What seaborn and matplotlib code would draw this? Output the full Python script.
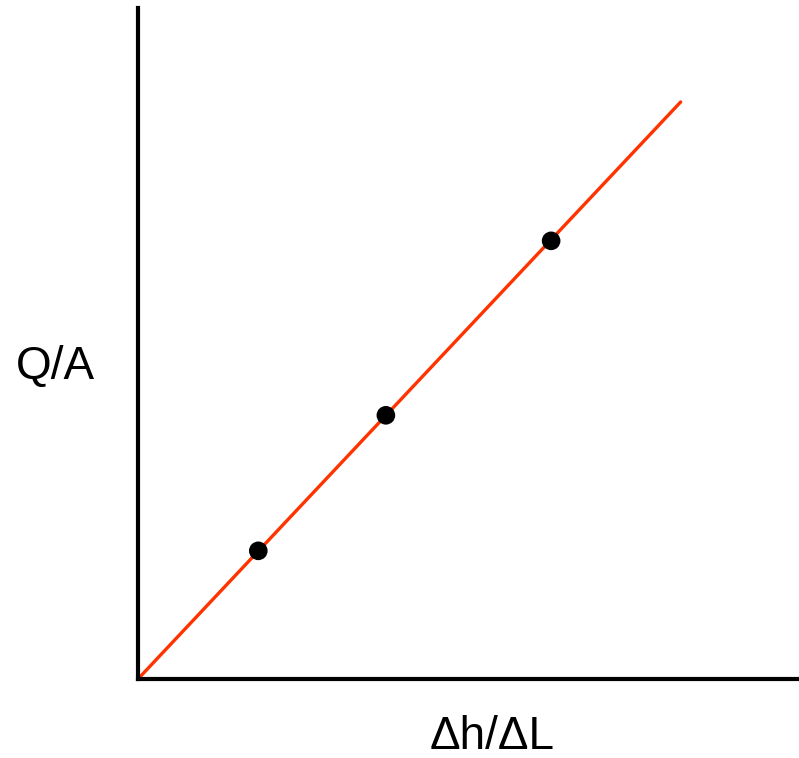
import matplotlib
matplotlib.use("Agg")
import matplotlib.pyplot as plt
import seaborn as sns
import pandas as pd

# measured points (gradient vs. specific discharge)
gradient = [1.82, 3.75, 6.25]
discharge = [1.91, 3.93, 6.53]

# fitted line through the origin
fit_x = [0.0, 8.21]
fit_y = [0.0, 8.60]

sns.set_style("white")
plt.rcParams['font.family'] = ['Liberation Sans', 'DejaVu Sans']

fig = plt.figure(figsize=(7.99, 7.58), dpi=100)
ax = fig.add_axes([138 / 799, 79 / 758, 661 / 799, 671 / 758])

df_pts = pd.DataFrame({'x': gradient, 'y': discharge})
df_fit = pd.DataFrame({'x': fit_x, 'y': fit_y})

sns.lineplot(data=df_fit, x='x', y='y', color='#ff3300', linewidth=2.4, ax=ax, clip_on=False)
sns.scatterplot(data=df_pts, x='x', y='y', color='black', s=180, edgecolor='none', ax=ax, zorder=3)

ax.set_xlim(0, 10)
ax.set_ylim(0, 10)
ax.set_xticks([])
ax.set_yticks([])
ax.set_xlabel('')
ax.set_ylabel('')
for side in ['top', 'right']:
    ax.spines[side].set_visible(False)
for side in ['left', 'bottom']:
    ax.spines[side].set_linewidth(3)
    ax.spines[side].set_color('black')

fig.text(55 / 799, 1 - 367 / 758, 'Q/A', fontsize=33, color='black', ha='center', va='center')
fig.text(492 / 799, 1 - 737 / 758, '\u0394h/\u0394L', fontsize=33, color='black', ha='center', va='center')

fig.savefig('out.png', dpi=100)
